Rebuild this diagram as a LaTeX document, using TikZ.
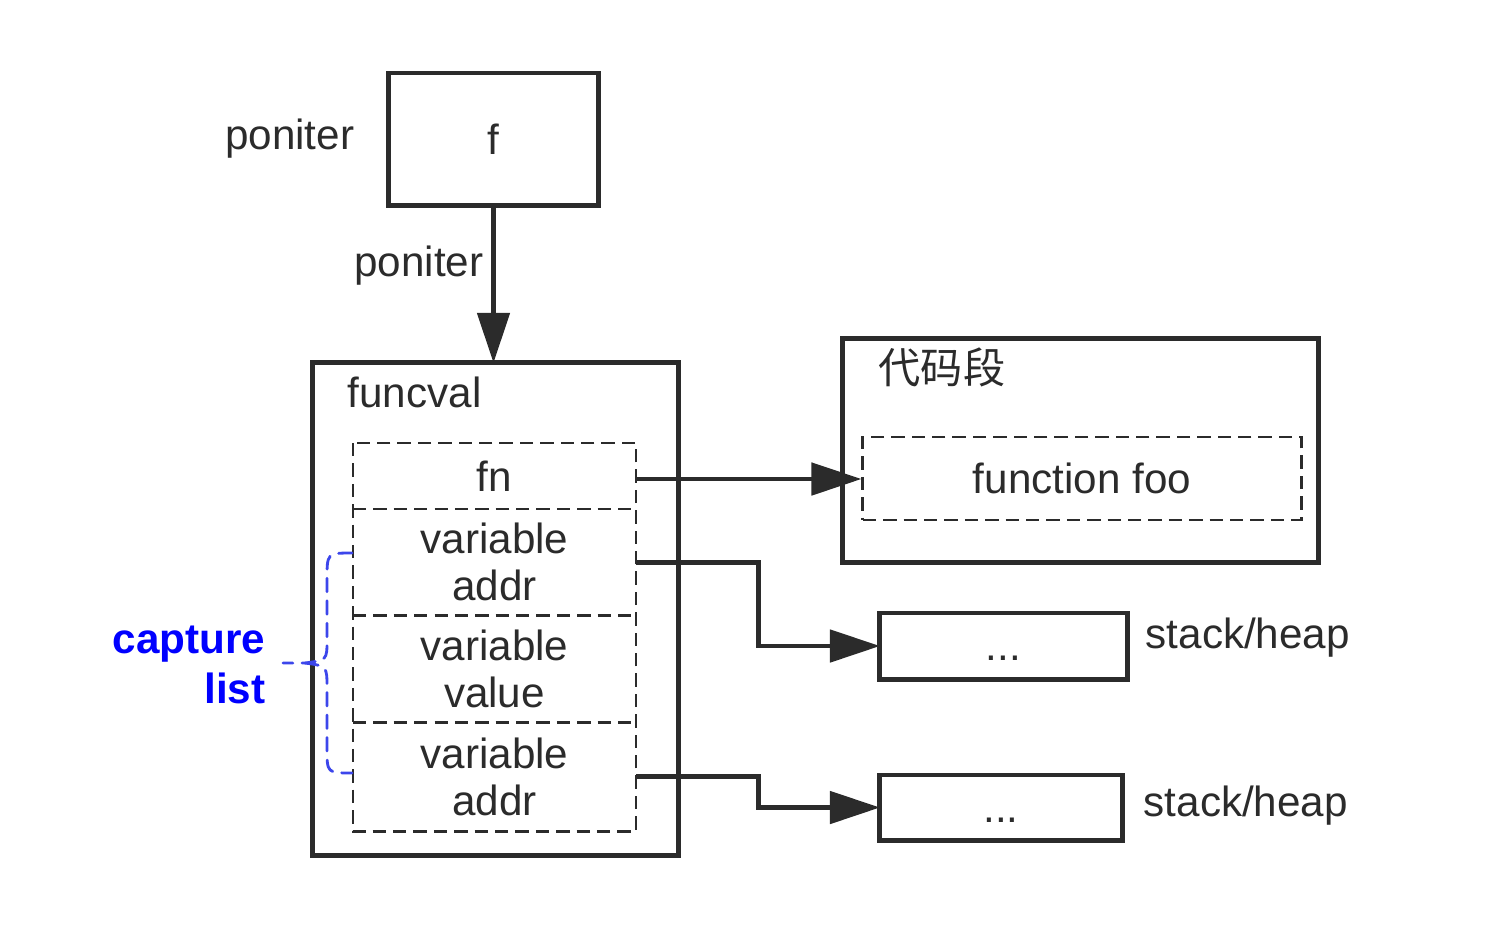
\documentclass[tikz,border=0pt]{standalone}
\usepackage{fontspec}
\setmainfont{Liberation Sans}
\newfontfamily\cjk{Noto Sans CJK SC}
\usetikzlibrary{arrows.meta, positioning}
\definecolor{ink}{RGB}{43,43,43}
\definecolor{capblue}{RGB}{0,0,255}
\definecolor{bracecol}{RGB}{60,70,235}

\begin{document}
\begin{tikzpicture}[x=0.01cm, y=-0.01cm,
    lbl/.style={inner sep=0pt, text=ink, font=\fontsize{12}{13.4}\selectfont},
    box/.style={lbl, draw=ink, line width=1.4pt, outer sep=0pt},
    dashline/.style={draw=ink, line width=0.8pt, dash pattern=on 3.8pt off 2pt},
    slot/.style={lbl, outer sep=0pt, minimum width=2.83cm, align=center},
    arr/.style={draw=ink, line width=1.4pt, -{Triangle[length=0.5cm, width=0.32cm]}},
    bracepart/.style={bracecol, line width=0.8pt, dash pattern=on 3.8pt off 2.6pt, line cap=round}]

    \useasboundingbox (0,0) rectangle (1512,932);

    % pointer f
    \node[box, minimum width=2.09cm, minimum height=1.32cm] (f) at (493.5,139) {f};
    \node[lbl, left=0.34cm of f] (fptr) {poniter};

    % funcval with its slots
    \node[box, minimum width=3.65cm, minimum height=4.92cm] (funcval) at (495.5,609) {};
    \node[lbl, anchor=west] (fvname) at (347,392) {funcval};
    \node[slot, minimum height=0.66cm] (fn) at (494.5,476) {\raisebox{-1pt}{fn}};
    \node[slot, minimum height=1.06cm, below=0pt of fn] (addra) {variable\\addr};
    \node[slot, minimum height=1.07cm, below=0pt of addra] (val) {variable\\value};
    \node[slot, minimum height=1.09cm, below=0pt of val] (addrb) {variable\\addr};
    \draw[dashline] (fn.north west) rectangle (addrb.south east);
    \foreach \s in {fn, addra, val}
        \draw[dashline] (\s.south west) -- (\s.south east);

    % code segment
    \node[box, minimum width=4.75cm, minimum height=2.23cm] (code) at (1080.5,450.5) {};
    \node[lbl, anchor=west, font=\fontsize{12}{14}\cjk] (codename) at (878,367) {代码段};
    \node[lbl, dashline, minimum width=4.38cm, minimum height=0.83cm] (foo) at (1082,478.5) {function foo};

    % stack/heap targets
    \node[box, minimum width=2.47cm, minimum height=0.66cm] (stacka) at (1003.5,646) {\vphantom{A}...};
    \node[lbl, anchor=west] (heapa) at (1145,638) {stack/heap};
    \node[box, minimum width=2.42cm, minimum height=0.65cm] (stackb) at (1001,807.5) {\vphantom{A}...};
    \node[lbl, anchor=west] (heapb) at (1143,806) {stack/heap};

    % connectors
    \draw[arr] (f.south) -- (f.south |- funcval.north);
    \node[lbl, anchor=east] (arrptr) at (484,266) {poniter};
    \draw[arr] ([yshift=-0.03cm]fn.east) -- ([yshift=-0.03cm]fn.east -| foo.west);
    \draw[arr] (addra.east) -- ++(122,0) |- (stacka.west);
    \draw[arr] (addrb.east) -- ++(122,0) |- (stackb.west);

    % capture list brace
    \draw[bracepart] (352,553) .. controls (327,553) .. (327,580) -- (327,640)
        .. controls (327,660) .. (305,663) -- (283,663);
    \draw[bracepart] (305,663) .. controls (327,666) .. (327,688) -- (327,748)
        .. controls (327,773) .. (352,773);
    \node[lbl, text=capblue, font=\fontsize{12}{14.2}\selectfont\bfseries, align=right, anchor=east]
        (caplist) at (266,665) {capture\\list};
\end{tikzpicture}
\end{document}
